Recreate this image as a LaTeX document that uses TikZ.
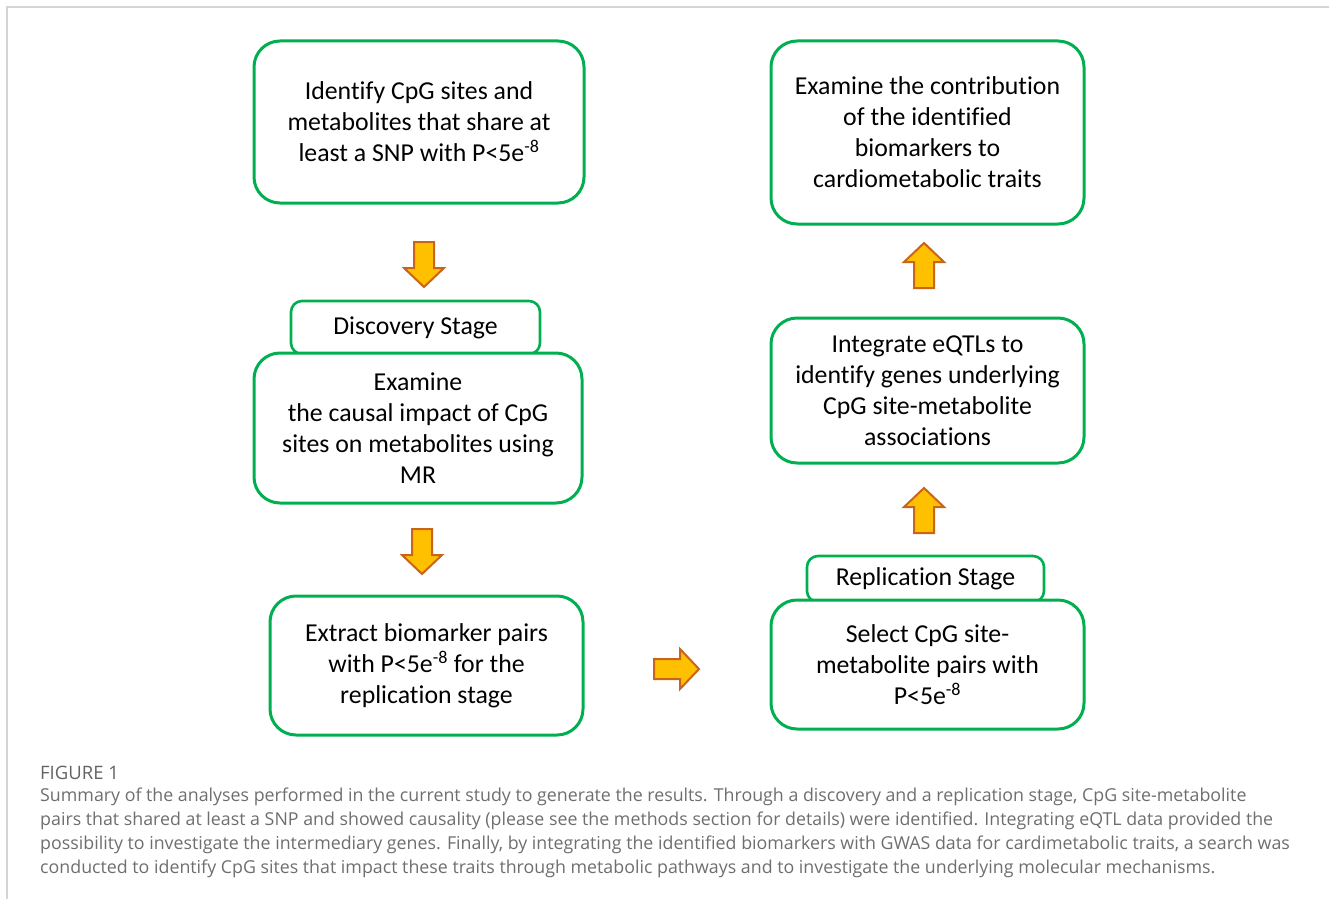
\documentclass[tikz,border=0pt]{standalone}
\usepackage{fontspec}
\setmainfont[Ligatures={NoCommon}]{Carlito}
\newfontfamily\capfont{Open Sans}
\definecolor{boxgreen}{HTML}{00B050}
\definecolor{arrfill}{HTML}{FFC000}
\definecolor{arrdraw}{HTML}{C8651B}
\definecolor{framegray}{HTML}{D4D4D4}
\definecolor{capgray}{HTML}{6E6E6E}
\tikzset{
  bigbox/.style={draw=boxgreen, line width=3pt, rounded corners=26pt, fill=white, align=center,
    font=\fontsize{25.8}{31}\selectfont, inner sep=0pt},
  tabbox/.style={draw=boxgreen, line width=2.6pt, rounded corners=11pt, fill=white, align=center,
    font=\fontsize{25.8}{31}\selectfont, inner sep=0pt},
  blockarr/.pic={\draw[draw=arrdraw, fill=arrfill, line width=2pt, line join=miter]
     (0,-10) -- (26,-10) -- (26,-20) -- (45,0) -- (26,20) -- (26,10) -- (0,10) -- cycle;},
  capline/.style={anchor=base west, inner sep=0pt, text=capgray, font=\capfont\fontsize{17.8}{24}\selectfont}
}
\begin{document}
\begin{tikzpicture}[x=1pt,y=-1pt]
\useasboundingbox (0,0) rectangle (1329,899);
% frame
\draw[framegray, line width=2pt] (7,899) -- (7,7) -- (1329,7);
% left column
\node[bigbox, minimum width=330pt, minimum height=162pt] (b1) at (419,122)
  {Identify CpG sites and\\metabolites that share at\\least a SNP with P<5e\textsuperscript{-8}};
\node[tabbox, minimum width=249pt, minimum height=53pt] (t1) at (415.5,327.5) {Discovery Stage};
\node[bigbox, minimum width=328pt, minimum height=150pt] (b2) at (418,428)
  {Examine\\ the causal impact of CpG\\sites on metabolites using\\MR};
\node[bigbox, minimum width=313pt, minimum height=139pt] (b3) at (426.5,665.5)
  {Extract biomarker pairs\\with P<5e\textsuperscript{-8} for the\\replication stage};
% right column
\node[tabbox, minimum width=237pt, minimum height=46pt] (t2) at (925.5,579) {Replication Stage};
\node[bigbox, minimum width=313pt, minimum height=129pt] (b4) at (927.5,664.5)
  {Select CpG site-\\metabolite pairs with\\P<5e\textsuperscript{-8}};
\node[bigbox, minimum width=313pt, minimum height=145pt] (b5) at (927.5,390.5)
  {Integrate eQTLs to\\identify genes underlying\\CpG site-metabolite\\associations};
\node[bigbox, minimum width=313pt, minimum height=183pt] (b6) at (927.5,132.5)
  {Examine the contribution\\of the identified\\biomarkers to\\cardiometabolic traits};
% block arrows
\pic[rotate=-90] at (424,242) {blockarr};
\pic[rotate=-90] at (422,529) {blockarr};
\pic at (654,669) {blockarr};
\pic[rotate=90] at (924,533) {blockarr};
\pic[rotate=90] at (924,288) {blockarr};
% caption
\node[anchor=base west, inner sep=0pt, text=capgray!90!black, font=\capfont\fontsize{18.5}{24}\selectfont] (fig) at (40,779) {FIGURE 1};
\node[capline] (c1) at (40,801) {Summary of the analyses performed in the current study to generate the results. Through a discovery and a replication stage, CpG site-metabolite};
\node[capline] (c2) at (40,825) {pairs that shared at least a SNP and showed causality (please see the methods section for details) were identified. Integrating eQTL data provided the};
\node[capline] (c3) at (40,849) {possibility to investigate the intermediary genes. Finally, by integrating the identified biomarkers with GWAS data for cardimetabolic traits, a search was};
\node[capline] (c4) at (40,873) {conducted to identify CpG sites that impact these traits through metabolic pathways and to investigate the underlying molecular mechanisms.};
\end{tikzpicture}
\end{document}
